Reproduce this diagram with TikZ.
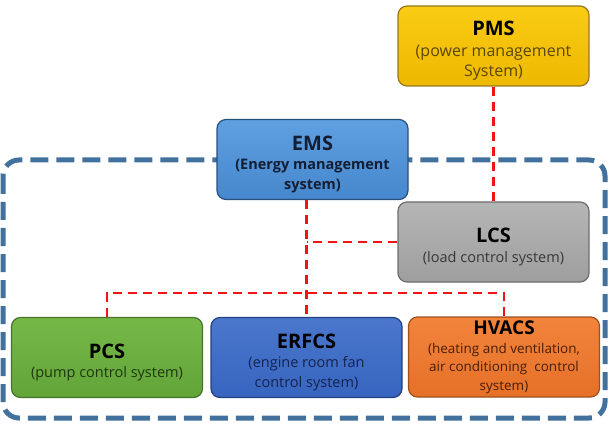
\documentclass[tikz,border=0pt]{standalone}
\usepackage{fontspec}
\setmainfont{Open Sans}
\usetikzlibrary{positioning}
\definecolor{zoneblue}{RGB}{65,113,156}
\definecolor{linkred}{RGB}{240,20,20}
\definecolor{pmstop}{RGB}{250,204,20}
\definecolor{pmsbot}{RGB}{238,184,0}
\definecolor{pmsedge}{RGB}{150,120,30}
\definecolor{pmstext}{RGB}{90,70,10}
\definecolor{emstop}{RGB}{95,160,225}
\definecolor{emsbot}{RGB}{70,135,205}
\definecolor{emsedge}{RGB}{40,80,125}
\definecolor{emstext}{RGB}{20,30,50}
\definecolor{lcstop}{RGB}{182,182,182}
\definecolor{lcsbot}{RGB}{158,158,158}
\definecolor{lcsedge}{RGB}{110,110,110}
\definecolor{lcstext}{RGB}{55,55,55}
\definecolor{pcstop}{RGB}{118,184,72}
\definecolor{pcsbot}{RGB}{98,164,56}
\definecolor{pcsedge}{RGB}{70,115,45}
\definecolor{pcstext}{RGB}{30,55,15}
\definecolor{erftop}{RGB}{75,120,205}
\definecolor{erfbot}{RGB}{55,100,190}
\definecolor{erfedge}{RGB}{35,65,130}
\definecolor{erftext}{RGB}{20,35,80}
\definecolor{hvatop}{RGB}{242,132,60}
\definecolor{hvabot}{RGB}{230,112,40}
\definecolor{hvaedge}{RGB}{160,80,30}
\definecolor{hvatext}{RGB}{75,30,5}
% box heading, with a strut that pushes the text block a little lower
\newcommand{\boxtitle}[1]{{\fontsize{20}{24}\selectfont\bfseries\rule{0pt}{24pt}#1}}
\tikzset{
  sysbox/.style={rectangle, rounded corners=9pt, line width=1.2pt,
    minimum width=191pt, minimum height=80pt, align=center, inner sep=0pt,
    font=\fontsize{14.5}{19.5}\selectfont},
  pmsbox/.style={sysbox, draw=pmsedge, top color=pmstop, bottom color=pmsbot, text=pmstext},
  emsbox/.style={sysbox, draw=emsedge, top color=emstop, bottom color=emsbot, text=emstext},
  lcsbox/.style={sysbox, draw=lcsedge, top color=lcstop, bottom color=lcsbot, text=lcstext},
  pcsbox/.style={sysbox, draw=pcsedge, top color=pcstop, bottom color=pcsbot, text=pcstext},
  erfbox/.style={sysbox, draw=erfedge, top color=erftop, bottom color=erfbot, text=erftext},
  hvabox/.style={sysbox, draw=hvaedge, top color=hvatop, bottom color=hvabot, text=hvatext},
  link/.style={draw=linkred, line width=2.4pt, dash pattern=on 9pt off 6pt},
  zone/.style={draw=zoneblue, line width=5pt, dash pattern=on 18pt off 8pt, rounded corners=16pt}
}
\begin{document}
\begin{tikzpicture}[x=1pt, y=-1pt]
  \useasboundingbox (0,0) rectangle (609,427);

  % Control zone (dashed frame)
  \draw[zone] (3,160) rectangle (605,418);

  % Upper systems
  \node[pmsbox, font=\fontsize{16}{20.5}\selectfont] (pms) at (493.5,46)
    {\boxtitle{\color{black}PMS}\\(power management\\System)};
  \node[emsbox] (ems) at (312.5,159.5)
    {\boxtitle{EMS}\\\bfseries (Energy management\\\bfseries system)};
  \node[lcsbox] (lcs) at (493.5,242)
    {\boxtitle{\color{black}LCS}\\(load control system)};

  % Lower systems
  \node[pcsbox] (pcs) at (107,357.5)
    {\boxtitle{\color{black}PCS}\\(pump control system)};
  \node[erfbox] (erfcs) at (306.5,357.5)
    {\boxtitle{\color{black}ERFCS}\\(engine room fan\\control system)};
  \node[hvabox, font=\fontsize{13.5}{18.5}\selectfont] (hvacs) at (504,357)
    {{\fontsize{19}{22}\selectfont\bfseries\color{black}HVACS}\\(heating and ventilation,\\air conditioning\ \ control\\system)};

  % Links
  \coordinate (busL) at (pcs.north |- 0,293);
  \coordinate (busR) at (hvacs.north |- 0,293);
  \draw[link] (pms.south) -- (lcs.north);
  \draw[link] (erfcs.north |- ems.south) -- (erfcs.north);
  \draw[link] (lcs.west) -- (erfcs.north |- lcs.west);
  \draw[link] (pcs.north) -- (busL) -- (busR) -- (hvacs.north);
\end{tikzpicture}
\end{document}
